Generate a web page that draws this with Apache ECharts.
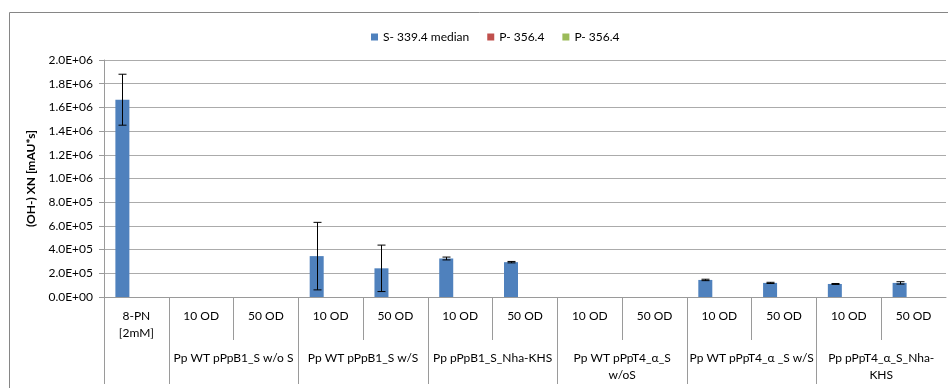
<!DOCTYPE html>
<html>
<head>
<meta charset="utf-8">
<title>(OH-) XN</title>
<script src="https://cdn.jsdelivr.net/npm/echarts@6/dist/echarts.min.js"></script>
<style>
  html, body { margin: 0; padding: 0; background: #fff; }
  #chart { width: 948px; height: 388px; }
</style>
</head>
<body>
<div id="chart"></div>
<script>
// Sample categories (first row of the x axis)
const categories = ['8-PN\n[2mM]', '10 OD', '50 OD', '10 OD', '50 OD', '10 OD', '50 OD',
                    '10 OD', '50 OD', '10 OD', '50 OD', '10 OD', '50 OD'];

// Strain groups (second row of the x axis) and how many samples each spans
const groupNames = ['', 'Pp WT pPpB1_S w/o S', 'Pp WT pPpB1_S w/S', 'Pp pPpB1_S_Nha-KHS',
                    'Pp WT pPpT4_\u03b1_S\nw/oS', 'Pp WT pPpT4_\u03b1 _S w/S', 'Pp pPpT4_\u03b1_S_Nha-\nKHS'];
const groupSizes = [1, 2, 2, 2, 2, 2, 2];

// Peak areas [mAU*s]
const seriesNames = ['S- 339.4 median', 'P- 356.4', 'P- 356.4 '];
const sMedian = [1665000, 0, 0, 345000, 242000, 325000, 294000, 0, 0, 144000, 119000, 110000, 119000];
const sError  = [215000, 0, 0, 285000, 196000, 12000, 6000, 0, 0, 6000, 5000, 4000, 10000];
const p356a   = [0, 0, 0, 0, 0, 0, 0, 0, 0, 0, 0, 0, 0];
const p356b   = [0, 0, 0, 0, 0, 0, 0, 0, 0, 0, 0, 0, 0];

// Y axis range and tick step
const yMin = 0, yMax = 2000000, yStep = 200000;

const colors = ['#4F81BD', '#C0504D', '#9BBB59'];
const FONT = 'Lato';
const BAR_W = 14;
const GRID_GRAY = '#ABABAB';
const AXIS_GRAY = '#9A9A9A';

// Boundaries between strain groups and centres of each group (category units)
const groupEdges = [];
const groupCenters = [];
const centerLabel = {};
let start = -0.5;
groupSizes.forEach((n, g) => {
  groupEdges.push(start);
  const c = start + n / 2;
  if (groupNames[g]) { groupCenters.push(c); centerLabel[c] = groupNames[g]; }
  start += n;
});
// Sample boundaries inside a group
const innerEdges = [];
for (let i = 1; i < categories.length; i++) {
  const e = i - 0.5;
  if (groupEdges.indexOf(e) < 0) innerEdges.push(e);
}

function sci(v) {
  const parts = v.toExponential(1).split('e');
  const exp = parseInt(parts[1], 10);
  const sign = exp < 0 ? '-' : '+';
  const digits = String(Math.abs(exp)).padStart(2, '0');
  return parts[0] + 'E' + sign + digits;
}

const errData = sMedian.map((v, i) => [i, v - sError[i], v + sError[i], sError[i]]);

const chart = echarts.init(document.getElementById('chart'), null, { renderer: 'canvas' });

const option = {
  animation: false,
  color: colors,
  textStyle: { fontFamily: FONT },
  graphic: [{
    type: 'rect',
    shape: { x: 9.5, y: 12.5, width: 1200, height: 1000 },
    style: { fill: 'none', stroke: '#868686', lineWidth: 1 },
    silent: true, z: -10
  }],
  legend: {
    left: 366, top: 26,
    itemWidth: 7, itemHeight: 7, itemGap: 18,
    icon: 'rect',
    textStyle: { fontFamily: FONT, fontSize: 12, color: '#000' },
    data: seriesNames
  },
  grid: { left: 104, right: 2, top: 60, bottom: 91, containLabel: false },
  xAxis: [
    {
      type: 'category',
      data: categories,
      position: 'bottom',
      axisLine: { show: true, onZero: false, lineStyle: { color: AXIS_GRAY, width: 1 } },
      axisTick: { show: false },
      axisLabel: { interval: 0, margin: 11, fontFamily: FONT, fontSize: 12, color: '#000', lineHeight: 17 },
      splitLine: { show: false }
    },
    {
      // tick marks between samples of one group
      type: 'value', min: -0.5, max: 12.5, position: 'bottom',
      axisLine: { show: false, onZero: false },
      axisTick: { show: true, customValues: innerEdges, length: 43, lineStyle: { color: AXIS_GRAY } },
      axisLabel: { show: false },
      splitLine: { show: false }
    },
    {
      // group boundaries and group names
      type: 'value', min: -0.5, max: 12.5, position: 'bottom',
      axisLine: { show: false, onZero: false },
      axisTick: { show: true, customValues: groupEdges, length: 87, lineStyle: { color: AXIS_GRAY } },
      axisLabel: {
        show: true, customValues: groupCenters, margin: 53,
        fontFamily: FONT, fontSize: 12, color: '#000', lineHeight: 17,
        formatter: v => centerLabel[v] || ''
      },
      splitLine: { show: false }
    }
  ],
  yAxis: {
    type: 'value', min: yMin, max: yMax, interval: yStep,
    position: 'left',
    name: '(OH-) XN [mAU*s]',
    nameLocation: 'middle', nameGap: 60,
    nameTextStyle: { fontFamily: FONT, fontSize: 12, fontWeight: 'bold', color: '#000' },
    axisLine: { show: true, onZero: false, lineStyle: { color: AXIS_GRAY } },
    axisTick: { show: true, length: 5, lineStyle: { color: AXIS_GRAY } },
    axisLabel: { margin: 11, fontFamily: FONT, fontSize: 12, color: '#000', formatter: sci },
    splitLine: { show: true, lineStyle: { color: GRID_GRAY, width: 1 } }
  },
  series: [
    { name: seriesNames[0], type: 'bar', xAxisIndex: 0, data: sMedian, barWidth: BAR_W, barGap: '0%',
      itemStyle: { color: colors[0] } },
    { name: seriesNames[1], type: 'bar', xAxisIndex: 0, data: p356a, barWidth: BAR_W, barGap: '0%',
      itemStyle: { color: colors[1] } },
    { name: seriesNames[2], type: 'bar', xAxisIndex: 0, data: p356b, barWidth: BAR_W, barGap: '0%',
      itemStyle: { color: colors[2] } },
    {
      // error bars on the S- 339.4 median bars (leftmost bar of each cluster)
      type: 'custom', xAxisIndex: 0, yAxisIndex: 0, z: 10, silent: true,
      data: errData,
      renderItem: function (params, api) {
        if (!api.value(3)) return null;
        const idx = api.value(0);
        const lo = api.coord([idx, api.value(1)]);
        const hi = api.coord([idx, api.value(2)]);
        const x = Math.round(lo[0] - BAR_W) + 0.5;
        const cap = 4;
        const style = { stroke: '#000', lineWidth: 1, fill: null };
        return {
          type: 'group',
          children: [
            { type: 'line', shape: { x1: x, y1: hi[1], x2: x, y2: lo[1] }, style: style },
            { type: 'line', shape: { x1: x - cap, y1: hi[1], x2: x + cap, y2: hi[1] }, style: style },
            { type: 'line', shape: { x1: x - cap, y1: lo[1], x2: x + cap, y2: lo[1] }, style: style }
          ]
        };
      }
    }
  ]
};

chart.setOption(option);
</script>
</body>
</html>
